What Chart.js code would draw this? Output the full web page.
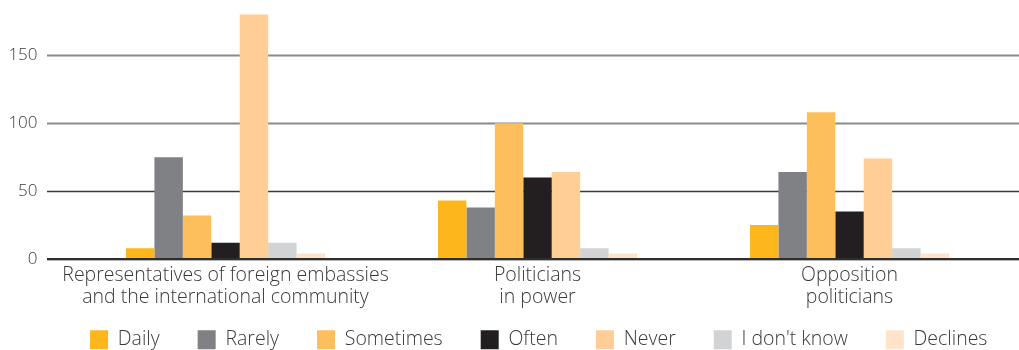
<!DOCTYPE html>
<html>
<head>
<meta charset="utf-8">
<script src="https://cdn.jsdelivr.net/npm/chart.js@4.4.1/dist/chart.umd.min.js"></script>
<style>
  html, body { margin: 0; padding: 0; background: #ffffff; }
  #wrap { position: relative; width: 1019px; height: 350px; }
</style>
</head>
<body>
<div id="wrap"><canvas id="c"></canvas></div>
<script>
const categories = [
  ["Representatives of foreign embassies", "and the international community"],
  ["Politicians", "in power"],
  ["Opposition", "politicians"]
];
const seriesNames = ["Daily", "Rarely", "Sometimes", "Often", "Never", "I don't know", "Declines"];
const daily     = [8, 43, 25];
const rarely    = [75, 38, 64];
const sometimes = [32, 100, 108];
const often     = [12, 60, 35];
const never     = [180, 64, 74];
const dontKnow  = [12, 8, 8];
const declines  = [4, 4, 4];
const yTicks = [0, 50, 100, 150];

const seriesValues = [daily, rarely, sometimes, often, never, dontKnow, declines];
const colors = ["#FDB71C", "#808184", "#FDBE5C", "#231F20", "#FECE96", "#D1D3D4", "#FEE4CB"];

const FONT = "'Open Sans', Lato, sans-serif";
const TEXT = "#3a3a3a";
const LEGEND_PAD = 38;
const LEGEND_SHIFT = 36;

const gridPlugin = {
  id: 'extGrid',
  afterLayout(chart) {
    const lg = chart.legend;
    if (lg) {
      const h = lg.bottom - lg.top;
      lg.top = 330 - LEGEND_PAD;
      lg.bottom = lg.top + h;
      lg.left += LEGEND_SHIFT;
      lg.right += LEGEND_SHIFT;
    }
  },
  beforeDatasetsDraw(chart) {
    const y = chart.scales.y, ctx = chart.ctx;
    const x0 = chart.chartArea.left - 22.5, x1 = chart.width;
    ctx.save();
    yTicks.forEach(v => {
      if (v === 0) return;
      const py = Math.round(y.getPixelForValue(v)) + 0.5;
      ctx.beginPath();
      ctx.strokeStyle = v >= 100 ? "#8a8a8a" : "#3a3a3a";
      ctx.lineWidth = v >= 100 ? 2 : 1.6;
      ctx.moveTo(x0, py); ctx.lineTo(x1, py); ctx.stroke();
    });
    ctx.restore();
  },
  afterDatasetsDraw(chart) {
    const y = chart.scales.y, ctx = chart.ctx;
    const x0 = chart.chartArea.left - 22.5, x1 = chart.width;
    const py = y.getPixelForValue(0);
    ctx.save();
    ctx.beginPath();
    ctx.strokeStyle = "#b5b5b5"; ctx.lineWidth = 1;
    ctx.moveTo(x0, py + 1.5); ctx.lineTo(x1, py + 1.5); ctx.stroke();
    ctx.beginPath();
    ctx.strokeStyle = "#2e2e2e"; ctx.lineWidth = 2;
    ctx.moveTo(x0, py); ctx.lineTo(x1, py); ctx.stroke();
    ctx.restore();
  }
};

new Chart(document.getElementById('c'), {
  type: 'bar',
  data: {
    labels: categories,
    datasets: seriesNames.map((n, i) => ({
      label: n,
      data: seriesValues[i],
      backgroundColor: colors[i],
      borderWidth: 0,
      categoryPercentage: 0.638,
      barPercentage: 1.0
    }))
  },
  options: {
    responsive: true,
    maintainAspectRatio: false,
    animation: false,
    layout: { padding: { left: 0, right: 13.5, top: 1, bottom: -28.5 } },
    plugins: {
      tooltip: { enabled: false },
      legend: {
        position: 'bottom',
        labels: {
          boxWidth: 18, boxHeight: 19,
          padding: LEGEND_PAD,
          color: TEXT,
          font: { family: FONT, size: 19.5, weight: '300' }
        }
      }
    },
    scales: {
      x: {
        grid: { display: false, drawTicks: false },
        border: { display: false },
        ticks: { color: TEXT, font: { family: FONT, size: 19.5, weight: '300', lineHeight: 1.13 }, padding: 5, maxRotation: 0, autoSkip: false },
        afterFit(s) { s.height = 52; }
      },
      y: {
        min: 0, max: 190,
        grid: { display: false, drawTicks: false },
        border: { display: false },
        afterBuildTicks(s) { s.ticks = yTicks.map(v => ({ value: v })); },
        ticks: { color: TEXT, font: { family: FONT, size: 17, weight: '300' }, padding: 32 },
        afterFit(s) { s.width = 69.5; s.paddingTop = 0; s.paddingBottom = 0; }
      }
    }
  },
  plugins: [gridPlugin]
});
</script>
</body>
</html>
